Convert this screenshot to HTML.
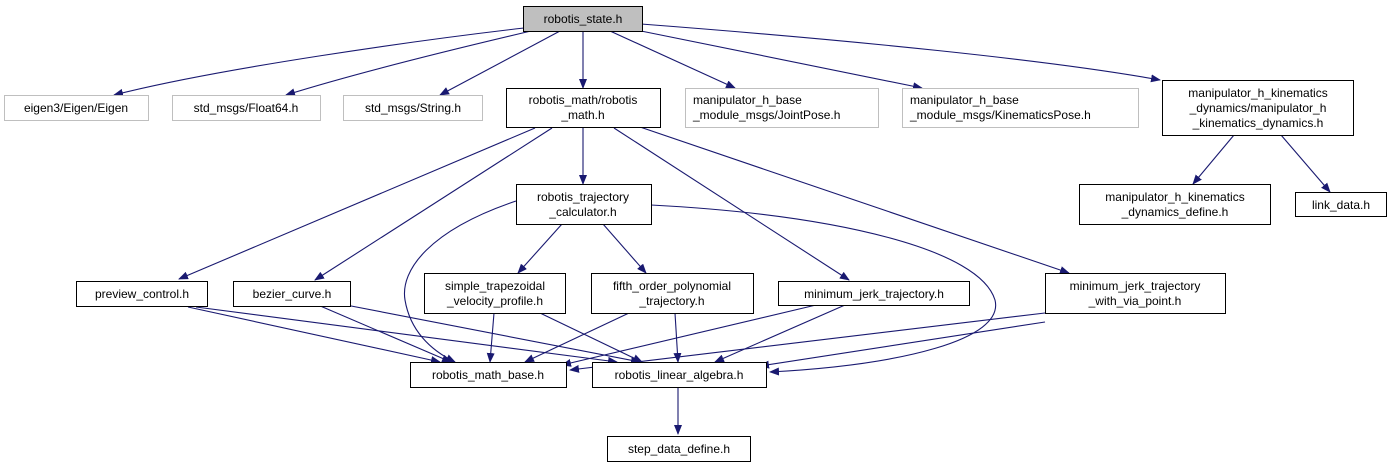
<!DOCTYPE html>
<html><head><meta charset="utf-8"><style>
html,body{margin:0;padding:0;background:#fff;}
svg{display:block;}
text{font-family:"Liberation Sans",sans-serif;font-size:12px;fill:#000;}
</style></head><body>
<svg width="1391" height="469" viewBox="0 0 1391 469" xmlns="http://www.w3.org/2000/svg">
<defs>
<marker id="a" markerWidth="10" markerHeight="8" refX="9" refY="4" orient="auto" markerUnits="userSpaceOnUse">
<path d="M0,0 L10,4 L0,8 Z" fill="#191970"/>
</marker>
</defs>
<g fill="none" stroke="#191970" stroke-width="1.1" marker-end="url(#a)">
<path d="M524,28 C420,40 220,68 114,95"/>
<path d="M531,31 C450,50 350,75 286,95"/>
<path d="M560,31 L440,95"/>
<path d="M583,31 L583,88"/>
<path d="M610,31 L735,88"/>
<path d="M641,31 L922,88"/>
<path d="M641,24 C850,40 1050,60 1160,80"/>
<path d="M1234,135 L1193,184"/>
<path d="M1281,135 L1330,192"/>
<path d="M583,127 L583,184"/>
<path d="M535,128 L179,279"/>
<path d="M552,128 L315,280"/>
<path d="M614,128 L849,280"/>
<path d="M640,127 L1069,273"/>
<path d="M562,224 L518,273"/>
<path d="M603,224 L646,273"/>
<path d="M516,201 C430,230 400,270 405,300 C410,330 430,350 455,362"/>
<path d="M651,205 C840,215 980,250 995,300 C1005,340 900,365 770,372"/>
<path d="M188,307 L440,362"/>
<path d="M196,307 L617,362"/>
<path d="M318,305 L451,362"/>
<path d="M346,305 L640,362"/>
<path d="M494,313 L490,362"/>
<path d="M540,313 L642,362"/>
<path d="M629,313 L525,362"/>
<path d="M675,313 L678,362"/>
<path d="M816,305 L562,365"/>
<path d="M845,305 L715,362"/>
<path d="M1045,313 L570,370"/>
<path d="M1045,322 L760,366"/>
<path d="M678,386 L678,434"/>
</g>
<g stroke-width="1">
<rect x="523.5" y="6.5" width="119" height="25" fill="#bfbfbf" stroke="#000"/>
<rect x="4.5" y="95.5" width="144" height="25" fill="#fff" stroke="#bfbfbf"/>
<rect x="172.5" y="95.5" width="148" height="25" fill="#fff" stroke="#bfbfbf"/>
<rect x="343.5" y="95.5" width="139" height="25" fill="#fff" stroke="#bfbfbf"/>
<rect x="506.5" y="88.5" width="154" height="39" fill="#fff" stroke="#000"/>
<rect x="685.5" y="88.5" width="193" height="39" fill="#fff" stroke="#bfbfbf"/>
<rect x="902.5" y="88.5" width="236" height="39" fill="#fff" stroke="#bfbfbf"/>
<rect x="1162.5" y="80.5" width="191" height="55" fill="#fff" stroke="#000"/>
<rect x="1079.5" y="184.5" width="191" height="40" fill="#fff" stroke="#000"/>
<rect x="1295.5" y="192.5" width="91" height="24" fill="#fff" stroke="#000"/>
<rect x="516.5" y="184.5" width="135" height="40" fill="#fff" stroke="#000"/>
<rect x="76.5" y="281.5" width="131" height="25" fill="#fff" stroke="#000"/>
<rect x="233.5" y="281.5" width="117" height="25" fill="#fff" stroke="#000"/>
<rect x="424.5" y="273.5" width="141" height="40" fill="#fff" stroke="#000"/>
<rect x="591.5" y="273.5" width="162" height="40" fill="#fff" stroke="#000"/>
<rect x="778.5" y="281.5" width="191" height="24" fill="#fff" stroke="#000"/>
<rect x="1045.5" y="273.5" width="180" height="40" fill="#fff" stroke="#000"/>
<rect x="410.5" y="362.5" width="156" height="25" fill="#fff" stroke="#000"/>
<rect x="592.5" y="362.5" width="174" height="25" fill="#fff" stroke="#000"/>
<rect x="607.5" y="436.5" width="143" height="25" fill="#fff" stroke="#000"/>
</g>
<g text-anchor="middle">
<text x="583" y="23">robotis_state.h</text>
<text x="76" y="112" fill="#333">eigen3/Eigen/Eigen</text>
<text x="246" y="112">std_msgs/Float64.h</text>
<text x="413" y="112">std_msgs/String.h</text>
<text x="583" y="104">robotis_math/robotis</text>
<text x="583" y="119">_math.h</text>
<text x="1258" y="97">manipulator_h_kinematics</text>
<text x="1258" y="112">_dynamics/manipulator_h</text>
<text x="1258" y="127">_kinematics_dynamics.h</text>
<text x="1175" y="201">manipulator_h_kinematics</text>
<text x="1175" y="216">_dynamics_define.h</text>
<text x="1341" y="209">link_data.h</text>
<text x="583" y="201">robotis_trajectory</text>
<text x="583" y="216">_calculator.h</text>
<text x="142" y="298">preview_control.h</text>
<text x="292" y="298">bezier_curve.h</text>
<text x="495" y="290">simple_trapezoidal</text>
<text x="495" y="305">_velocity_profile.h</text>
<text x="672" y="290">fifth_order_polynomial</text>
<text x="672" y="305">_trajectory.h</text>
<text x="874" y="298">minimum_jerk_trajectory.h</text>
<text x="1135" y="290">minimum_jerk_trajectory</text>
<text x="1135" y="305">_with_via_point.h</text>
<text x="488" y="379">robotis_math_base.h</text>
<text x="679" y="379">robotis_linear_algebra.h</text>
<text x="679" y="453">step_data_define.h</text>
</g>
<g>
<text x="693" y="104">manipulator_h_base</text>
<text x="693" y="119">_module_msgs/JointPose.h</text>
<text x="910" y="104">manipulator_h_base</text>
<text x="910" y="119">_module_msgs/KinematicsPose.h</text>
</g>
</svg>
</body></html>
